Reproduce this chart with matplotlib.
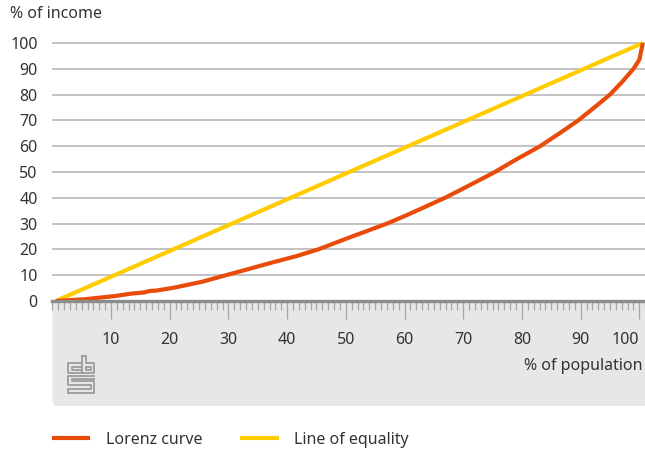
import numpy as np
import matplotlib
matplotlib.use("Agg")
import matplotlib.pyplot as plt
from matplotlib.patches import FancyBboxPatch
from matplotlib.transforms import IdentityTransform
from matplotlib.ticker import FixedLocator, MultipleLocator

# Data (percent of population vs percent of income)
population = np.array([0, 5, 10, 13, 15, 16, 17, 20, 25, 29, 33, 37, 41, 44.7, 50,
                       56.4, 60, 66.3, 70, 74.8, 78, 82.5, 86, 89, 92, 94.4, 96.5,
                       98.4, 99.4, 100])
lorenz = np.array([0, 0.7, 1.9, 2.9, 3.3, 3.9, 4.0, 5.1, 7.5, 10.0, 12.5, 15.0, 17.4,
                   20, 24.6, 30, 33.5, 40, 44.3, 50, 54.3, 60, 65.3, 70, 75.5, 80,
                   85.0, 90, 93.5, 100])
equality_x = np.array([0, 100])
equality_y = np.array([0, 100])

x_ticks = [10, 20, 30, 40, 50, 60, 70, 80, 90, 100]
y_ticks = [0, 10, 20, 30, 40, 50, 60, 70, 80, 90, 100]

orange = "#e94c0a"
yellow = "#ffcc00"
text_col = "#333333"

plt.rcParams["font.family"] = ["Noto Sans", "DejaVu Sans"]
plt.rcParams["font.size"] = 11.5

W, H = 645, 451
fig = plt.figure(figsize=(W / 100, H / 100), dpi=100)

# gray panel under the x axis, rounded bottom-left corner
panel = FancyBboxPatch((52.5, H - 406), 640, 120,
                       boxstyle="round,pad=0,rounding_size=6",
                       transform=IdentityTransform(), facecolor="#e6e7e7",
                       edgecolor="none", zorder=0)
fig.patches.append(panel)

ax = fig.add_axes([52.3 / W, (H - 301) / H, 593.5 / W, (301 - 40.4) / H])
ax.set_facecolor("white")
ax.set_zorder(1)

ax.plot(population + 0.6, lorenz, color=orange, lw=3, solid_capstyle="butt",
        solid_joinstyle="round", label="Lorenz curve", zorder=3, clip_on=False)
ax.plot(equality_x + 0.6, equality_y, color=yellow, lw=3, solid_capstyle="butt",
        label="Line of equality", zorder=2, clip_on=False)

ax.set_xlim(0, 101.1)
ax.set_ylim(0, 101)

ax.xaxis.set_major_locator(FixedLocator(x_ticks))
ax.xaxis.set_minor_locator(MultipleLocator(1))
ax.set_yticks(y_ticks)
ax.set_yticklabels([str(v) for v in y_ticks])
ax.set_xticklabels([str(v) for v in x_ticks])

ax.tick_params(axis="x", which="major", length=13, width=0.9, color="#a5a5a5",
               pad=9, labelcolor=text_col)
ax.tick_params(axis="x", which="minor", length=6.5, width=0.9, color="#a5a5a5")
ax.tick_params(axis="y", length=0, pad=10.5, labelcolor=text_col)

last = ax.get_xticklabels()[-1]
last.set_horizontalalignment("right")
last.set_x(100.6)

ax.grid(axis="y", color="#c2c2c2", lw=1.4)
ax.set_axisbelow(True)
for s in ["left", "right", "top"]:
    ax.spines[s].set_visible(False)
ax.spines["bottom"].set_color("#8c8c8c")
ax.spines["bottom"].set_linewidth(2.4)
ax.spines["bottom"].set_zorder(4)

fig.text(10 / W, 1 - 14 / H, "% of income", ha="left", va="center", color=text_col)
fig.text(643 / W, 1 - 366 / H, "% of population", ha="right", va="center",
         color=text_col)

# cbs logo (simplified) drawn in pixel space
logo_paths = [
    [(12.5, 6.7), (0, 6.7), (0, 17.3), (12.5, 17.3)],
    [(12.5, 10.5), (3.5, 10.5), (3.5, 13.5), (12.5, 13.5)],
    [(14, 0), (17.5, 0), (17.5, 6.7), (26, 6.7), (26, 17.3), (14, 17.3), (14, 0)],
    [(17.5, 10.5), (22.5, 10.5), (22.5, 13.5), (17.5, 13.5), (17.5, 10.5)],
    [(26, 19.5), (0, 19.5), (0, 28.5), (22.5, 28.5), (22.5, 33), (0, 33),
     (0, 36.5), (26, 36.5), (26, 25), (3.5, 25), (3.5, 22.5), (26, 22.5)],
]
for path in logo_paths:
    xs = [68 + p[0] for p in path]
    ys = [H - (356 + p[1]) for p in path]
    fig.add_artist(plt.Line2D(xs, ys, transform=IdentityTransform(),
                              color="#9b9b9b", lw=1.3, zorder=2))

handles, labels = ax.get_legend_handles_labels()
fig.legend(handles, labels, loc="center left", bbox_to_anchor=(52 / W, 1 - 440 / H),
           ncol=2, frameon=False, handlelength=2.4, handletextpad=0.95,
           columnspacing=2.4, borderpad=0, borderaxespad=0, labelcolor=text_col)

fig.savefig("out.png", dpi=100)
